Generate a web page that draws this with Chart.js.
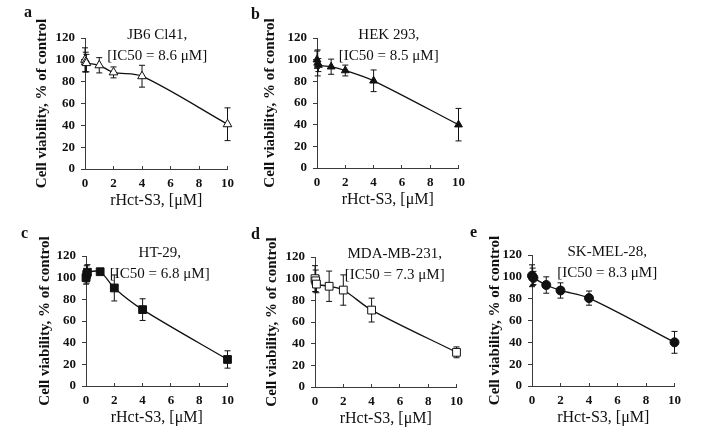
<!DOCTYPE html>
<html>
<head>
<meta charset="utf-8">
<script src="https://cdn.jsdelivr.net/npm/chart.js@4/dist/chart.umd.min.js"></script>
<style>
  body { margin: 0; background: #fff; }
  #wrap { position: relative; width: 715px; height: 443px; overflow: hidden; background: #fff; }
  #wrap canvas { position: absolute; }
</style>
</head>
<body>
<div id="wrap"></div>
<script>
// concentrations of rHct-S3, uM (three near-zero doses cluster at the axis)
const doses = [0, 0.05, 0.1, 1, 2, 4, 10];
const xTickValues = [0, 2, 4, 6, 8, 10];
const yTickValues = [0, 20, 40, 60, 80, 100, 120];

const jb6Values = [100, 98, 97, 95, 88.5, 85, 41];
const jb6Errors = [11, 9, 8, 7, 5, 10, 15];

const hekValues = [100, 97, 95, 93.5, 90, 80.5, 40];
const hekErrors = [8, 12, 6, 7, 5, 10, 15];

const ht29Values = [100, 103, 105, 105.5, 90.5, 70.5, 24.5];
const ht29Errors = [6, 8, 7, 1, 12, 10, 8];

const mdaValues = [100, 98, 95, 93, 89.5, 71, 32];
const mdaErrors = [12, 10, 8, 14, 14, 11, 5];

const skmelValues = [101, 100, 99, 92.5, 87.5, 80.5, 40];
const skmelErrors = [10, 8, 6, 7.5, 7, 6.5, 10];

const FONT = "'Liberation Serif', 'Times New Roman', serif";
const INK = "#111";
const AXIS = "#3a3a3a";

// draws vertical error bars through the chart's own scales, under the markers
const errorBarPlugin = {
  id: "errorBars",
  beforeDatasetsDraw(chart) {
    const { ctx, scales: { x, y } } = chart;
    const ds = chart.data.datasets[0];
    const errs = ds.errors || [];
    ctx.save();
    ctx.strokeStyle = INK;
    ctx.lineWidth = 1;
    ds.data.forEach((p, i) => {
      const e = errs[i];
      if (!e) return;
      const px = x.getPixelForValue(p.x);
      const top = y.getPixelForValue(p.y + e);
      const bot = y.getPixelForValue(p.y - e);
      ctx.beginPath();
      ctx.moveTo(px, top); ctx.lineTo(px, bot);
      ctx.moveTo(px - 3, top); ctx.lineTo(px + 3, top);
      ctx.moveTo(px - 3, bot); ctx.lineTo(px + 3, bot);
      ctx.stroke();
    });
    ctx.restore();
  }
};

// panel letter and the two-line cell-line caption inside the plot
const panelTextPlugin = {
  id: "panelText",
  afterDraw(chart, args, opts) {
    const { ctx, chartArea } = chart;
    ctx.save();
    ctx.fillStyle = INK;
    ctx.textBaseline = "middle";
    ctx.textAlign = "left";
    ctx.font = "bold 16px " + FONT;
    ctx.fillText(opts.letter, opts.letterX, opts.letterY);
    ctx.textAlign = "center";
    ctx.font = "15px " + FONT;
    const cx = (chartArea.left + chartArea.right) / 2 + opts.dx;
    ctx.fillText(opts.lines[0], cx, chartArea.top - 3);
    ctx.fillText(opts.lines[1], cx, chartArea.top + 18);
    ctx.restore();
  }
};

const panels = [
  { letter: "a", name: "JB6 Cl41,", ic50: "[IC50 = 8.6 \u03BCM]", values: jb6Values, errors: jb6Errors,
    style: "triangle", fill: "#fff", radius: 5, L: 85, R: 228, T: 38, B: 169, yTitleDist: 43, dx: 1, lx: 24, ly: 13 },
  { letter: "b", name: "HEK 293,", ic50: "[IC50 = 8.5 \u03BCM]", values: hekValues, errors: hekErrors,
    style: "triangle", fill: INK, radius: 4.5, L: 317, R: 459, T: 38, B: 168, yTitleDist: 47, dx: 1, lx: 251, ly: 15 },
  { letter: "c", name: "HT-29,", ic50: "[IC50 = 6.8 \u03BCM]", values: ht29Values, errors: ht29Errors,
    style: "rect", fill: INK, radius: 5.5, L: 86, R: 228, T: 256, B: 386, yTitleDist: 41, dx: 3, lx: 21, ly: 234 },
  { letter: "d", name: "MDA-MB-231,", ic50: "[IC50 = 7.3 \u03BCM]", values: mdaValues, errors: mdaErrors,
    style: "rect", fill: "#fff", radius: 5.5, L: 315, R: 457, T: 257, B: 387, yTitleDist: 43, dx: 9, lx: 251, ly: 235 },
  { letter: "e", name: "SK-MEL-28,", ic50: "[IC50 = 8.3 \u03BCM]", values: skmelValues, errors: skmelErrors,
    style: "circle", fill: INK, radius: 4.5, L: 532, R: 675, T: 255, B: 386, yTitleDist: 37, dx: 4, lx: 470, ly: 233 }
];

function buildPanel(p) {
  const left = p.L - 70;
  const top = Math.max(0, p.T - 45);
  const width = p.R - left + 16;
  const height = p.B - top + 45;

  const canvas = document.createElement("canvas");
  canvas.width = width;
  canvas.height = height;
  canvas.style.left = left + "px";
  canvas.style.top = top + "px";
  canvas.style.width = width + "px";
  canvas.style.height = height + "px";
  document.getElementById("wrap").appendChild(canvas);

  new Chart(canvas.getContext("2d"), {
    type: "line",
    data: {
      datasets: [{
        data: doses.map((d, i) => ({ x: d, y: p.values[i] })),
        errors: p.errors,
        borderColor: INK,
        borderWidth: 1.3,
        tension: 0.3,
        pointStyle: p.style,
        pointRadius: p.radius,
        pointBackgroundColor: p.fill,
        pointBorderColor: INK,
        pointBorderWidth: 1,
        clip: false
      }]
    },
    options: {
      responsive: false,
      animation: false,
      devicePixelRatio: 1,
      layout: { padding: { left: 0, top: p.T - top, right: 16, bottom: 3 } },
      plugins: {
        legend: { display: false },
        tooltip: { enabled: false },
        panelText: { letter: p.letter, letterX: p.lx - left, letterY: p.ly - top, lines: [p.name, p.ic50], dx: p.dx }
      },
      scales: {
        x: {
          type: "linear",
          min: 0,
          max: 10,
          afterFit: s => { s.height = 42; },
          afterBuildTicks: s => { s.ticks = xTickValues.map(v => ({ value: v })); },
          border: { color: AXIS, width: 1 },
          grid: { drawOnChartArea: false, tickLength: -3, color: AXIS },
          ticks: { color: INK, padding: 10, maxRotation: 0, font: { family: FONT, size: 13, weight: "bold" } },
          title: {
            display: true,
            text: "rHct-S3, [\u03BCM]",
            color: INK,
            padding: { top: 0, bottom: 1 },
            font: { family: FONT, size: 16 }
          }
        },
        y: {
          type: "linear",
          min: 0,
          max: 120,
          afterFit: s => { s.width = 70; },
          afterBuildTicks: s => { s.ticks = yTickValues.map(v => ({ value: v })); },
          border: { color: AXIS, width: 1 },
          grid: { drawOnChartArea: false, tickLength: 4, color: AXIS },
          ticks: { color: INK, padding: 6, font: { family: FONT, size: 13, weight: "bold" } },
          title: {
            display: true,
            text: "Cell viability, % of control",
            color: INK,
            padding: { top: 70 - p.yTitleDist - 9, bottom: 0 },
            font: { family: FONT, size: 15, weight: "bold" }
          }
        }
      }
    },
    plugins: [errorBarPlugin, panelTextPlugin]
  });
}

document.addEventListener("DOMContentLoaded", () => {
  panels.forEach(buildPanel);
});
</script>
</body>
</html>
